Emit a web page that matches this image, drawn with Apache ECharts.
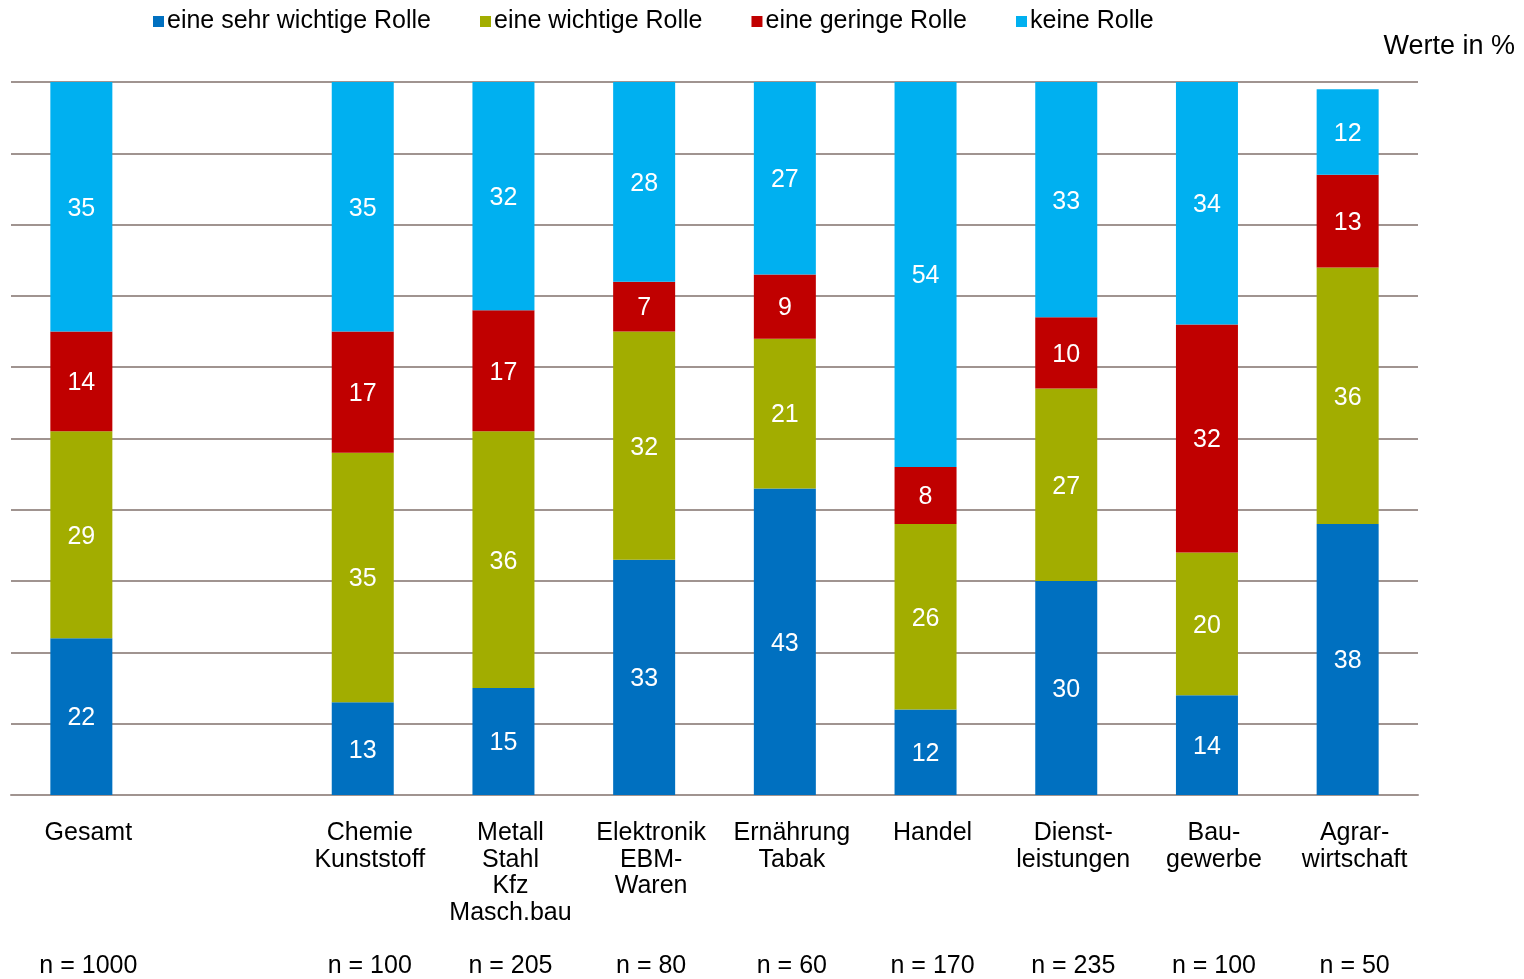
<!DOCTYPE html>
<html>
<head>
<meta charset="utf-8">
<script src="https://cdn.jsdelivr.net/npm/echarts@6/dist/echarts.min.js"></script>
<style>
  html, body { margin: 0; padding: 0; background: #fff; }
  #chart { width: 1524px; height: 979px; }
</style>
</head>
<body>
<div id="chart"></div>
<script>
// categories (empty slot after Gesamt is the gap in the original)
var categories = ['Gesamt', '', 'Chemie\nKunststoff', 'Metall\nStahl\nKfz\nMasch.bau', 'Elektronik\nEBM-\nWaren',
  'Ernährung\nTabak', 'Handel', 'Dienst-\nleistungen', 'Bau-\ngewerbe', 'Agrar-\nwirtschaft']
var sampleSizes = ['n = 1000', '', 'n = 100', 'n = 205', 'n = 80', 'n = 60', 'n = 170', 'n = 235', 'n = 100', 'n = 50']

var sehrWichtig = [22, null, 13, 15, 33, 43, 12, 30, 14, 38]
var wichtig = [29, null, 35, 36, 32, 21, 26, 27, 20, 36]
var gering = [14, null, 17, 17, 7, 9, 8, 10, 32, 13]
var keine = [35, null, 35, 32, 28, 27, 54, 33, 34, 12]

var seriesNames = ['eine sehr wichtige Rolle', 'eine wichtige Rolle', 'eine geringe Rolle', 'keine Rolle']
var colors = ['#0070C0', '#A2AD00', '#C00000', '#00B0F0']

// pad each category label to 5 lines, then the n line
var axisLabels = categories.map(function(c, i) {
  var lines = c === '' ? [] : c.split('\n')
  while (lines.length < 5) lines.push('')
  lines.push(sampleSizes[i])
  return lines.join('\n')
})

var chart = echarts.init(document.getElementById('chart'))

function makeSeries(name, data, color) {
  return {
    name: name,
    type: 'bar',
    stack: 'total',
    barWidth: 62,
    data: data,
    itemStyle: { color: color },
    label: {
      show: true,
      position: 'inside',
      offset: [0, 2],
      color: '#fff',
      fontSize: 25,
      fontFamily: 'Liberation Sans'
    },
    animation: false
  }
}

chart.setOption({
  textStyle: { fontFamily: 'Liberation Sans' },
  color: colors,
  title: {
    text: 'Werte in %',
    right: 4,
    top: 28,
    textStyle: { fontSize: 27, fontWeight: 'normal', color: '#000', fontFamily: 'Liberation Sans' }
  },
  legend: {
    data: seriesNames,
    left: 148,
    top: 4,
    itemWidth: 11,
    itemHeight: 11,
    itemGap: 49,
    icon: 'rect',
    textStyle: { fontSize: 25, color: '#000', fontFamily: 'Liberation Sans', padding: [0, 0, 0, -2] }
  },
  grid: {
    left: 11,
    right: 106,
    top: 82,
    bottom: 183,
    containLabel: false
  },
  xAxis: {
    type: 'category',
    data: axisLabels,
    axisLine: { show: true, lineStyle: { color: '#A09490', width: 2 } },
    axisTick: { show: false },
    axisLabel: {
      interval: 0,
      color: '#000',
      fontSize: 25,
      lineHeight: 26.5,
      margin: 25,
      padding: [0, 0, 0, 14],
      fontFamily: 'Liberation Sans'
    }
  },
  yAxis: {
    type: 'value',
    min: 0,
    max: 100,
    interval: 10,
    axisLabel: { show: false },
    axisLine: { show: false },
    axisTick: { show: false },
    splitLine: { lineStyle: { color: '#A09490', width: 2 } }
  },
  series: [
    makeSeries(seriesNames[0], sehrWichtig, colors[0]),
    makeSeries(seriesNames[1], wichtig, colors[1]),
    makeSeries(seriesNames[2], gering, colors[2]),
    makeSeries(seriesNames[3], keine, colors[3])
  ]
})
</script>
</body>
</html>
